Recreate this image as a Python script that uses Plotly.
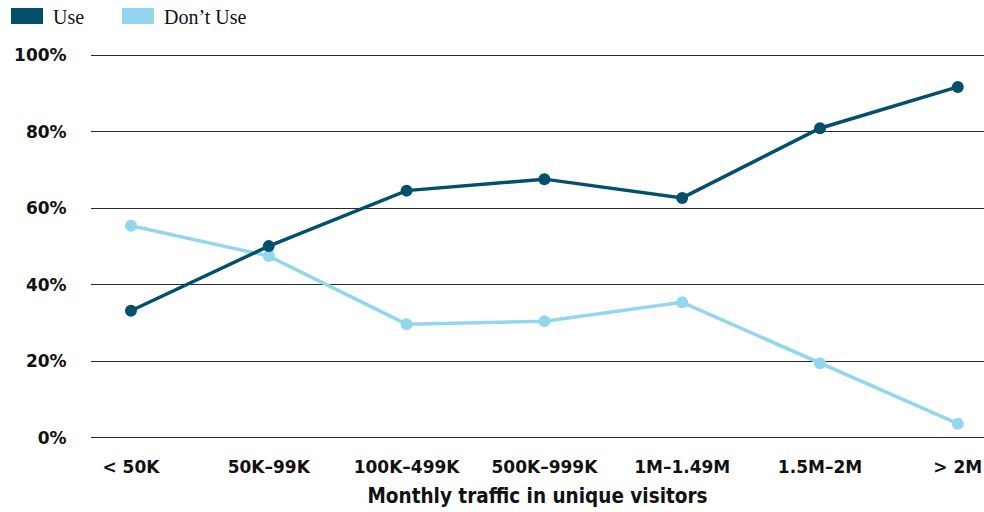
import plotly.graph_objects as go

categories = ["< 50K", "50K–99K", "100K–499K", "500K–999K", "1M–1.49M", "1.5M–2M", "> 2M"]
use_values = [33.2, 50.1, 64.6, 67.6, 62.7, 80.9, 91.7]
dont_use_values = [55.4, 47.5, 29.7, 30.5, 35.4, 19.5, 3.7]
y_ticks = [0, 20, 40, 60, 80, 100]
y_tick_labels = ["0%", "20%", "40%", "60%", "80%", "100%"]

DARK = "#03506b"
LIGHT = "#92d7ed"

W, H = 984, 512
L, T, B = 91, 54, 73
PW, PH = W - L, H - T - B

def px_x(page_x):
    return (page_x - L) / PW

def px_y(page_y):
    return (H - B - page_y) / PH

fig = go.Figure()
fig.add_trace(go.Scatter(
    x=list(range(len(categories))), y=dont_use_values, mode="lines+markers",
    name="Don’t Use", line=dict(color=LIGHT, width=3.5),
    marker=dict(color=LIGHT, size=12), cliponaxis=False, showlegend=False))
fig.add_trace(go.Scatter(
    x=list(range(len(categories))), y=use_values, mode="lines+markers",
    name="Use", line=dict(color=DARK, width=3.5),
    marker=dict(color=DARK, size=12), cliponaxis=False, showlegend=False))

# legend drawn as swatches + labels
legend_items = [("Use", DARK, 11), ("Don’t Use", LIGHT, 122)]
shapes = []
annotations = []
for label, color, x0 in legend_items:
    shapes.append(dict(type="rect", xref="paper", yref="paper",
                       x0=px_x(x0), x1=px_x(x0 + 32),
                       y0=px_y(24), y1=px_y(8),
                       fillcolor=color, line=dict(width=0), layer="above"))
    annotations.append(dict(text=label, xref="paper", yref="paper",
                            x=px_x(x0 + 41), y=px_y(17),
                            xanchor="left", yanchor="middle", showarrow=False,
                            borderpad=0,
                            font=dict(family="Liberation Serif, DejaVu Serif, serif",
                                      size=20, color="#111")))

fig.update_layout(
    width=W, height=H,
    margin=dict(l=L, r=0, t=T, b=B),
    plot_bgcolor="white", paper_bgcolor="white",
    showlegend=False,
    shapes=shapes, annotations=annotations,
    xaxis=dict(
        tickmode="array", tickvals=list(range(len(categories))), ticktext=categories,
        range=[-0.29, 6.19], showgrid=False, zeroline=False, showline=False,
        ticks="outside", ticklen=13, tickcolor="rgba(0,0,0,0)",
        tickfont=dict(family="DejaVu Sans, sans-serif",
                      size=17, color="#111", weight="bold"),
        title=dict(text="Monthly traffic in unique visitors", standoff=12,
                   font=dict(family="DejaVu Sans Condensed, DejaVu Sans, sans-serif",
                             size=20.5, color="#111", weight="bold")),
    ),
    yaxis=dict(
        tickmode="array", tickvals=y_ticks, ticktext=y_tick_labels,
        range=[-0.3, 100.3], showgrid=True, gridcolor="#2a2a2a", gridwidth=1,
        zeroline=False, showline=False,
        ticks="outside", ticklen=20, tickcolor="rgba(0,0,0,0)",
        tickfont=dict(family="DejaVu Sans, sans-serif", size=17, color="#111", weight="bold"),
    ),
)

fig.write_html(
    "out.html",
    config={"displayModeBar": False},
    post_script="document.body.style.margin='0';document.body.style.overflow='hidden';",
)
